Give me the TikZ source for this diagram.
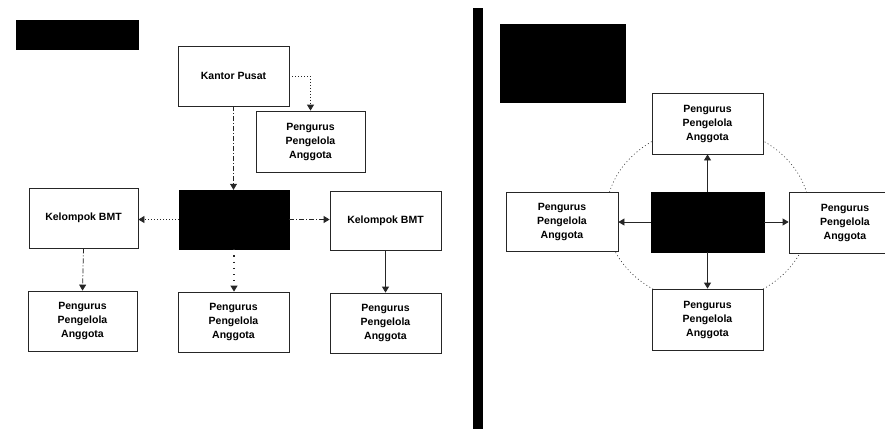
\documentclass[tikz,border=0pt]{standalone}
\usepackage{fontspec}
\setmainfont{Liberation Sans}
\usetikzlibrary{arrows.meta}
\begin{document}
\begin{tikzpicture}[x=1pt,y=-1pt,
  box/.style={draw=black!85,line width=0.8pt,fill=white,minimum width=110pt,minimum height=60pt,
    inner sep=0pt,align=center,font=\fontsize{10.5}{14}\selectfont\bfseries},
  darkbox/.style={fill=black,draw=black,minimum width=110pt,minimum height=60pt,inner sep=0pt},
  link/.style={line width=0.8pt,draw=black!85,-{Triangle[width=7pt,length=6pt]}},
  dotlink/.style={link,dash pattern=on 1pt off 2pt},
  sparselink/.style={link,line width=1.1pt,dash pattern=on 1.2pt off 5pt},
  dashdotlink/.style={link,dash pattern=on 5pt off 2pt on 1pt off 2pt}]
\path[use as bounding box,clip] (0,0) rectangle (885,429);

% ---- left: BMT structure ----
\node[fill=black,minimum width=123pt,minimum height=30pt,inner sep=0pt] (lbla) at (77.5,35) {};
\node[box,minimum width=111pt] (kantor) at (233.5,76) {Kantor Pusat};
\node[box,minimum width=109pt,minimum height=61pt] (pk) at (310.5,141.5) {Pengurus\\Pengelola\\Anggota};
\node[darkbox,minimum height=59pt] (pusat) at (234,219.5) {};
\node[box,minimum width=109pt] (kl) at (83.5,218) {Kelompok BMT};
\node[box,minimum width=111pt,minimum height=59pt] (kr) at (385.5,220.5) {Kelompok BMT};
\node[box,minimum width=109pt] (pl) at (82.5,321) {Pengurus\\Pengelola\\Anggota};
\node[box,minimum width=111pt] (pc) at (233.5,322) {Pengurus\\Pengelola\\Anggota};
\node[box,minimum width=111pt] (pr) at (385.5,323) {Pengurus\\Pengelola\\Anggota};

\draw[dotlink] (kantor.east) -| (pk.north);
\draw[dashdotlink] (kantor.south) -- (kantor.south |- pusat.north);
\draw[dotlink] (pusat.west) -- (pusat.west -| kl.east);
\draw[dashdotlink] (pusat.east) -- (pusat.east -| kr.west);
\draw[dashdotlink] (kl.south) -- (pl.north);
\draw[sparselink] (pusat.south) -- (pusat.south |- pc.north);
\draw[link] (kr.south) -- (pr.north);

% ---- separator ----
\fill[black] (473,8) rectangle (483,429);

% ---- right: hub structure ----
\node[fill=black,minimum width=126pt,minimum height=79pt,inner sep=0pt] (lblb) at (563,63.5) {};
\draw[black!80,line width=0.6pt,dash pattern=on 1pt off 2.5pt] (708,215) ellipse [x radius=102, y radius=88];
\node[box,minimum width=111pt,minimum height=61pt] (top) at (707.5,123.5) {Pengurus\\Pengelola\\Anggota};
\node[box,minimum width=112pt,minimum height=59pt] (left) at (562,221.5) {Pengurus\\Pengelola\\Anggota};
\node[darkbox,minimum width=113pt] (hub) at (707.5,222) {};
\node[box,minimum width=112pt,minimum height=61pt] (right) at (845,222.5) {Pengurus\\Pengelola\\Anggota};
\node[box,minimum width=111pt,minimum height=61pt] (bottom) at (707.5,319.5) {Pengurus\\Pengelola\\Anggota};

\draw[link] (hub.north) -- (top.south);
\draw[link] (hub.south) -- (bottom.north);
\draw[link] (hub.west) -- (hub.west -| left.east);
\draw[link] (hub.east) -- (hub.east -| right.west);
\end{tikzpicture}
\end{document}
